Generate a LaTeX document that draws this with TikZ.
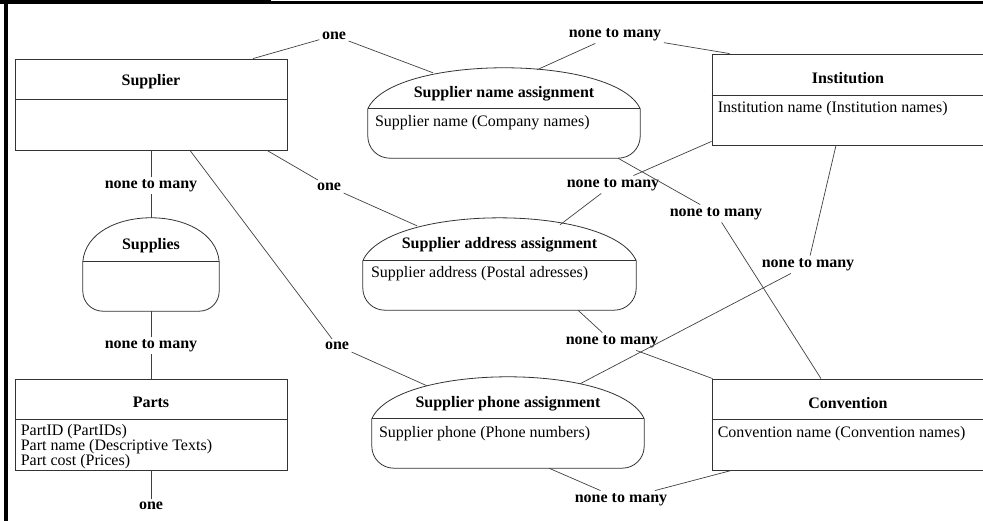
\documentclass[tikz,border=0pt]{standalone}
\usepackage{fontspec}
\setmainfont{Liberation Serif}
\usetikzlibrary{calc}

\begin{document}
\begin{tikzpicture}[x=1pt, y=-1pt,
    entity/.style={draw=black!80, line width=0.8pt, minimum width=272pt, minimum height=91pt, inner sep=0pt},
    body/.style={minimum height=49pt, inner sep=0pt},
    outline/.style={draw=black!80, line width=0.8pt},
    ttl/.style={font=\fontsize{16}{18}\selectfont\bfseries, inner sep=1pt},
    attr/.style={font=\fontsize{16}{15}\selectfont, anchor=west, inner sep=0pt, align=left},
    card/.style={font=\fontsize{16}{18}\selectfont\bfseries, inner sep=2.5pt},
    link/.style={draw=black!75, line width=0.7pt}]

    \useasboundingbox (0,0) rectangle (983,521);
    \fill (0,0) rectangle (271,4);
    \fill (271,1) rectangle (983,4);
    \fill (4,0) rectangle (7.5,521);

    % entity boxes
    \node[entity] (sup) at (151,104.5) {};
    \node[entity] (parts) at (151,424.5) {};
    \node[entity] (inst) at (848,99.5) {};
    \node[entity] (conv) at (848,424.5) {};
    \draw[outline] ([yshift=-41pt]sup.north west) -- ([yshift=-41pt]sup.north east);
    \draw[outline] ([yshift=-41pt]parts.north west) -- ([yshift=-41pt]parts.north east);
    \draw[outline] ([yshift=-42pt]inst.north west) -- ([yshift=-42pt]inst.north east);
    \draw[outline] ([yshift=-41pt]conv.north west) -- ([yshift=-41pt]conv.north east);

    % relationship shapes
    \node[body, minimum width=136pt] (supp) at (151,286.5) {};
    \node[body, minimum width=272pt] (sna) at (504,133.5) {};
    \node[body, minimum width=273pt] (saa) at (499.5,285.5) {};
    \node[body, minimum width=272pt] (spa) at (508,443.5) {};

    \draw[outline, rounded corners=20pt] (supp.north west) -- (supp.south west) -- (supp.south east) -- (supp.north east);
    \draw[outline] (supp.north west) -- (supp.north east);
    \draw[outline] (supp.north west) .. controls ($(supp.north west)+(5,-58.7)$) and ($(supp.north east)+(-5,-58.7)$) .. (supp.north east);

    \draw[outline, rounded corners=22pt] (sna.north west) -- (sna.south west) -- (sna.south east) -- (sna.north east);
    \draw[outline] (sna.north west) -- (sna.north east);
    \draw[outline] (sna.north west) .. controls ($(sna.north west)+(25,-54.7)$) and ($(sna.north east)+(-25,-54.7)$) .. (sna.north east);

    \draw[outline, rounded corners=22pt] (saa.north west) -- (saa.south west) -- (saa.south east) -- (saa.north east);
    \draw[outline] (saa.north west) -- (saa.north east);
    \draw[outline] (saa.north west) .. controls ($(saa.north west)+(25,-57.3)$) and ($(saa.north east)+(-25,-57.3)$) .. (saa.north east);

    \draw[outline, rounded corners=22pt] (spa.north west) -- (spa.south west) -- (spa.south east) -- (spa.north east);
    \draw[outline] (spa.north west) -- (spa.north east);
    \draw[outline] (spa.north west) .. controls ($(spa.north west)+(25,-56)$) and ($(spa.north east)+(-25,-56)$) .. (spa.north east);

    % titles
    \node[ttl] (suptitle) at ([yshift=-23pt]sup.north) {Supplier};
    \node[ttl] (partstitle) at ([yshift=-24pt]parts.north) {Parts};
    \node[ttl] (insttitle) at ([yshift=-24pt]inst.north) {Institution};
    \node[ttl] (convtitle) at ([yshift=-24pt]conv.north) {Convention};
    \node[ttl] (supptitle) at ([yshift=16pt]supp.north) {Supplies};
    \node[ttl] (snatitle) at ([yshift=15pt]sna.north) {Supplier name assignment};
    \node[ttl] (saatitle) at ([yshift=16pt]saa.north) {Supplier address assignment};
    \node[ttl] (spatitle) at ([yshift=15pt]spa.north) {Supplier phone assignment};

    % attributes
    \node[attr, anchor=north west] (partsattr) at ([xshift=6pt,yshift=-46pt]parts.north west) {PartID (PartIDs)\\Part name (Descriptive Texts)\\Part cost (Prices)};
    \node[attr] (instattr) at ([xshift=6pt,yshift=-55pt]inst.north west) {Institution name (Institution names)};
    \node[attr] (convattr) at ([xshift=6pt,yshift=-55.5pt]conv.north west) {Convention name (Convention names)};
    \node[attr] (snaattr) at ([xshift=7pt,yshift=-13.5pt]sna.north west) {Supplier name (Company names)};
    \node[attr] (saaattr) at ([xshift=8pt,yshift=-13pt]saa.north west) {Supplier address (Postal adresses)};
    \node[attr] (spaattr) at ([xshift=7pt,yshift=-14.5pt]spa.north west) {Supplier phone (Phone numbers)};

    % cardinalities
    \node[card] (c1) at (334,35.5) {one};
    \node[card] (c2) at (615,34.5) {none to many};
    \node[card] (c3) at (329,186.5) {one};
    \node[card] (c4) at (613,184.5) {none to many};
    \node[card] (c5) at (716,213.5) {none to many};
    \node[card] (c6) at (808,264.5) {none to many};
    \node[card] (c7) at (612,341.5) {none to many};
    \node[card] (c8) at (337,345.5) {one};
    \node[card] (c9) at (151,185.5) {none to many};
    \node[card] (c10) at (151,345.5) {none to many};
    \node[card] (c11) at (151,505.5) {one};
    \node[card] (c12) at (621,499.5) {none to many};

    % links
    \draw[link] ([xshift=102pt]sup.north) -- (c1) -- ([xshift=-71pt,yshift=36pt]sna.north);
    \draw[link] ([xshift=33pt,yshift=39pt]sna.north) -- (c2) -- ([xshift=18pt]inst.north west);
    \draw[link] ([xshift=116pt]sup.south) -- (c3) -- ([xshift=-82.5pt,yshift=35pt]saa.north);
    \draw[link] ([yshift=4pt]inst.south west) -- (c4) -- ([xshift=60.5pt,yshift=36pt]saa.north);
    \draw[link] ([xshift=114pt]sna.south) -- (c5) -- ([xshift=-27pt]conv.north);
    \draw[link] ([xshift=-12pt]inst.south) -- (c6) -- ([xshift=72pt,yshift=35pt]spa.north);
    \draw[link] ([xshift=78.5pt]saa.south) -- (c7) -- ([xshift=1pt]conv.north west);
    \draw[link] ([xshift=39pt]sup.south) -- (c8) -- ([xshift=-81pt,yshift=33pt]spa.north);
    \draw[link] (sup.south) -- (c9) -- ([yshift=44pt]supp.north);
    \draw[link] (supp.south) -- (c10) -- (parts.north);
    \draw[link] (parts.south) -- (c11);
    \draw[link] ([xshift=41pt]spa.south) -- (c12) -- ([xshift=20pt]conv.south west);
\end{tikzpicture}
\end{document}
